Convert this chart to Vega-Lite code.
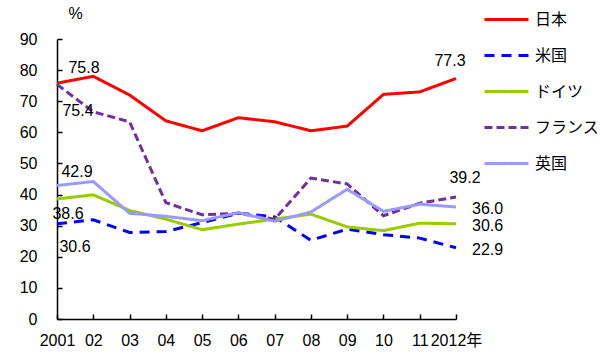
{
  "$schema": "https://vega.github.io/schema/vega-lite/v6.json",
  "autosize": "none",
  "width": 399,
  "height": 280,
  "padding": {"left": 57, "top": 39, "right": 144, "bottom": 41},
  "background": "white",
  "config": {"view": {"stroke": null}, "font": "Liberation Sans", "legend": {"rowPadding": 4}},
  "data": {"values": [
    {"year": 2001, "country": "日本", "value": 75.8},
    {"year": 2002, "country": "日本", "value": 78.0},
    {"year": 2003, "country": "日本", "value": 72.0},
    {"year": 2004, "country": "日本", "value": 63.7},
    {"year": 2005, "country": "日本", "value": 60.5},
    {"year": 2006, "country": "日本", "value": 64.7},
    {"year": 2007, "country": "日本", "value": 63.4},
    {"year": 2008, "country": "日本", "value": 60.5},
    {"year": 2009, "country": "日本", "value": 62.0},
    {"year": 2010, "country": "日本", "value": 72.2},
    {"year": 2011, "country": "日本", "value": 73.0},
    {"year": 2012, "country": "日本", "value": 77.3},
    {"year": 2001, "country": "米国", "value": 30.6},
    {"year": 2002, "country": "米国", "value": 31.9},
    {"year": 2003, "country": "米国", "value": 27.8},
    {"year": 2004, "country": "米国", "value": 28.1},
    {"year": 2005, "country": "米国", "value": 31.0},
    {"year": 2006, "country": "米国", "value": 34.0},
    {"year": 2007, "country": "米国", "value": 32.8},
    {"year": 2008, "country": "米国", "value": 25.3},
    {"year": 2009, "country": "米国", "value": 28.9},
    {"year": 2010, "country": "米国", "value": 27.1},
    {"year": 2011, "country": "米国", "value": 26.0},
    {"year": 2012, "country": "米国", "value": 22.9},
    {"year": 2001, "country": "ドイツ", "value": 38.6},
    {"year": 2002, "country": "ドイツ", "value": 39.9},
    {"year": 2003, "country": "ドイツ", "value": 34.9},
    {"year": 2004, "country": "ドイツ", "value": 32.1},
    {"year": 2005, "country": "ドイツ", "value": 28.7},
    {"year": 2006, "country": "ドイツ", "value": 30.5},
    {"year": 2007, "country": "ドイツ", "value": 32.1},
    {"year": 2008, "country": "ドイツ", "value": 33.7},
    {"year": 2009, "country": "ドイツ", "value": 29.6},
    {"year": 2010, "country": "ドイツ", "value": 28.4},
    {"year": 2011, "country": "ドイツ", "value": 30.8},
    {"year": 2012, "country": "ドイツ", "value": 30.6},
    {"year": 2001, "country": "フランス", "value": 75.4},
    {"year": 2002, "country": "フランス", "value": 66.6},
    {"year": 2003, "country": "フランス", "value": 63.4},
    {"year": 2004, "country": "フランス", "value": 37.4},
    {"year": 2005, "country": "フランス", "value": 33.5},
    {"year": 2006, "country": "フランス", "value": 34.0},
    {"year": 2007, "country": "フランス", "value": 32.1},
    {"year": 2008, "country": "フランス", "value": 45.3},
    {"year": 2009, "country": "フランス", "value": 43.4},
    {"year": 2010, "country": "フランス", "value": 33.2},
    {"year": 2011, "country": "フランス", "value": 37.2},
    {"year": 2012, "country": "フランス", "value": 39.2},
    {"year": 2001, "country": "英国", "value": 42.9},
    {"year": 2002, "country": "英国", "value": 44.2},
    {"year": 2003, "country": "英国", "value": 34.0},
    {"year": 2004, "country": "英国", "value": 33.0},
    {"year": 2005, "country": "英国", "value": 31.6},
    {"year": 2006, "country": "英国", "value": 34.2},
    {"year": 2007, "country": "英国", "value": 31.4},
    {"year": 2008, "country": "英国", "value": 34.4},
    {"year": 2009, "country": "英国", "value": 41.7},
    {"year": 2010, "country": "英国", "value": 34.6},
    {"year": 2011, "country": "英国", "value": 36.9},
    {"year": 2012, "country": "英国", "value": 36.0}
  ]},
  "encoding": {
    "x": {"field": "year", "type": "quantitative",
      "scale": {"domain": [2001, 2012], "nice": false, "zero": false},
      "axis": {"title": null, "grid": false, "ticks": true, "values": [2001,2002,2003,2004,2005,2006,2007,2008,2009,2010,2011,2012],
        "labelExpr": "datum.value == 2001 ? '2001' : datum.value == 2012 ? '2012年' : ((datum.value - 2000) < 10 ? '0' : '') + (datum.value - 2000)",
        "domainColor": "black", "domainWidth": 1.5, "tickColor": "black", "tickWidth": 1.5, "tickSize": -5,
        "labelPadding": 18, "labelFontSize": 16, "labelColor": "black", "labelFont": "Liberation Sans, Noto Sans CJK JP", "labelFlush": false, "labelOverlap": false}},
    "y": {"field": "value", "type": "quantitative",
      "scale": {"domain": [0, 90], "nice": false},
      "axis": {"title": "%", "titleAngle": 0, "titleX": 18, "titleY": -26, "titleAlign": "center", "titleBaseline": "middle",
        "titleFontSize": 16, "titleFontWeight": "normal", "titleColor": "black",
        "grid": false, "ticks": true, "values": [0,10,20,30,40,50,60,70,80,90],
        "domainColor": "black", "domainWidth": 1.5, "tickColor": "black", "tickWidth": 1.5, "tickSize": -5,
        "labelPadding": 25, "labelFontSize": 16, "labelColor": "black"}}
  },
  "layer": [
    {
      "mark": {"type": "line", "strokeWidth": 3},
      "encoding": {
        "color": {"field": "country", "type": "nominal",
          "scale": {"domain": ["日本", "米国", "ドイツ", "フランス", "英国"], "range": ["#FF0000", "#0000FF", "#99CC00", "#7030A0", "#9999FF"]},
          "legend": {"title": null, "orient": "none", "legendX": 426, "legendY": -43, "padding": 0,
            "symbolType": "stroke", "symbolSize": 1936, "symbolStrokeWidth": 3, "rowPadding": 4,
            "labelFontSize": 16, "labelFont": "Noto Sans CJK JP", "labelColor": "black", "labelOffset": 5}},
        "strokeDash": {"field": "country", "type": "nominal",
          "scale": {"domain": ["日本", "米国", "ドイツ", "フランス", "英国"], "range": [[1,0],[10,7],[1,0],[8,4],[1,0]]},
          "legend": {"title": null, "orient": "none", "legendX": 426, "legendY": -43, "padding": 0,
            "symbolType": "stroke", "symbolSize": 1936, "symbolStrokeWidth": 3, "rowPadding": 4,
            "labelFontSize": 16, "labelFont": "Noto Sans CJK JP", "labelColor": "black", "labelOffset": 5}}
      }
    },
    {"transform": [{"filter": "datum.country == '日本' && datum.year == 2001"}],
     "mark": {"type": "text", "fontSize": 16, "dx": 27, "dy": -15, "color": "black"},
     "encoding": {"text": {"field": "value", "type": "quantitative", "format": ".1f"}}},
    {"transform": [{"filter": "datum.country == 'フランス' && datum.year == 2001"}],
     "mark": {"type": "text", "fontSize": 16, "dx": 21, "dy": 27, "color": "black"},
     "encoding": {"text": {"field": "value", "type": "quantitative", "format": ".1f"}}},
    {"transform": [{"filter": "datum.country == '英国' && datum.year == 2001"}],
     "mark": {"type": "text", "fontSize": 16, "dx": 20, "dy": -14, "color": "black"},
     "encoding": {"text": {"field": "value", "type": "quantitative", "format": ".1f"}}},
    {"transform": [{"filter": "datum.country == 'ドイツ' && datum.year == 2001"}],
     "mark": {"type": "text", "fontSize": 16, "dx": 11, "dy": 15, "color": "black"},
     "encoding": {"text": {"field": "value", "type": "quantitative", "format": ".1f"}}},
    {"transform": [{"filter": "datum.country == '米国' && datum.year == 2001"}],
     "mark": {"type": "text", "fontSize": 16, "dx": 18, "dy": 23, "color": "black"},
     "encoding": {"text": {"field": "value", "type": "quantitative", "format": ".1f"}}},
    {"transform": [{"filter": "datum.country == '日本' && datum.year == 2012"}],
     "mark": {"type": "text", "fontSize": 16, "dx": -6, "dy": -18, "color": "black"},
     "encoding": {"text": {"field": "value", "type": "quantitative", "format": ".1f"}}},
    {"transform": [{"filter": "datum.country == 'フランス' && datum.year == 2012"}],
     "mark": {"type": "text", "fontSize": 16, "dx": 9, "dy": -19, "color": "black"},
     "encoding": {"text": {"field": "value", "type": "quantitative", "format": ".1f"}}},
    {"transform": [{"filter": "datum.year == 2012 && datum.country != '日本' && datum.country != 'フランス'"}],
     "mark": {"type": "text", "fontSize": 16, "align": "left", "dx": 16, "dy": 2, "color": "black"},
     "encoding": {"text": {"field": "value", "type": "quantitative", "format": ".1f"}}}
  ]
}
